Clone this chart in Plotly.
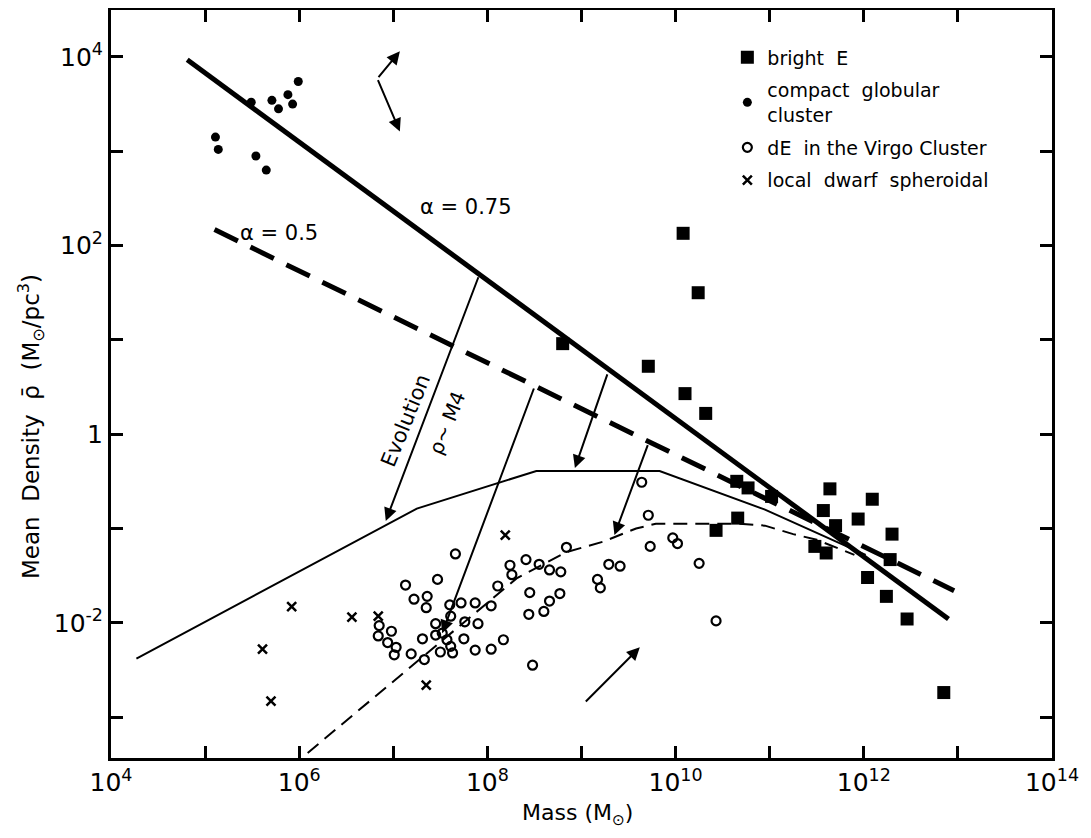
import plotly.graph_objects as go

# ---------------- data (log10 values) ----------------
brightE_logM = [10.08, 10.24, 8.80, 9.71, 10.10, 10.32, 10.65, 10.77, 11.02, 10.66, 10.43, 11.64,
                11.57, 11.70, 11.94, 12.09, 12.30, 11.48, 11.60, 12.28, 12.04, 12.24, 12.46, 12.85]
brightE_logRho = [2.13, 1.50, 0.96, 0.72, 0.43, 0.22, -0.50, -0.57, -0.66, -0.89, -1.02, -0.58,
                  -0.81, -0.97, -0.90, -0.69, -1.06, -1.19, -1.26, -1.33, -1.52, -1.72, -1.96, -2.74]

globular_logM = [5.99, 5.88, 5.93, 5.71, 5.78, 5.49, 5.11, 5.14, 5.54, 5.65]
globular_logRho = [3.74, 3.60, 3.50, 3.54, 3.45, 3.52, 3.15, 3.02, 2.95, 2.80]

dE_logM = [7.66, 7.13, 7.47, 7.22, 7.36, 7.35, 6.85, 6.98, 6.84, 6.94, 7.03, 7.01, 7.19, 7.33, 7.31,
           7.45, 7.45, 7.60, 7.72, 7.87, 8.04, 8.11, 7.61, 7.76, 7.90, 7.75, 7.61, 7.50, 7.63, 7.87,
           8.04, 8.17, 8.24, 8.26, 8.41, 8.55, 8.66, 8.78, 8.84, 8.45, 8.77, 8.66, 8.60, 8.44, 8.48,
           7.52, 7.57, 9.64, 9.71, 9.73, 9.97, 10.02, 10.25, 10.43, 9.29, 9.41, 9.17, 9.20]
dE_logRho = [-1.27, -1.60, -1.54, -1.75, -1.72, -1.84, -2.03, -2.09, -2.14, -2.21, -2.26, -2.34, -2.33,
             -2.39, -2.17, -2.01, -2.13, -1.81, -1.79, -1.79, -1.82, -1.61, -1.93, -1.99, -2.01, -2.17,
             -2.25, -2.31, -2.32, -2.29, -2.28, -2.18, -1.39, -1.49, -1.33, -1.38, -1.44, -1.46, -1.20,
             -1.68, -1.69, -1.77, -1.88, -1.91, -2.45, -2.11, -2.18, -0.51, -0.86, -1.19, -1.10, -1.16,
             -1.37, -1.98, -1.38, -1.40, -1.54, -1.63]

dSph_logM = [5.92, 5.61, 5.70, 6.56, 6.84, 7.35, 8.19]
dSph_logRho = [-1.83, -2.28, -2.83, -1.94, -1.93, -2.66, -1.07]

alpha075_logM = [4.81, 12.90]
alpha075_logRho = [3.97, -1.96]
alpha05_logM = [5.10, 12.96]
alpha05_logRho = [2.17, -1.66]
evolved_logM = [4.27, 7.25, 8.52, 9.83, 10.95, 12.02]
evolved_logRho = [-2.38, -0.79, -0.39, -0.39, -0.80, -1.28]
dEfit_logM = [6.09, 8.31, 8.84, 9.23, 9.58, 9.79, 10.68, 10.95, 11.25, 11.50, 11.90]
dEfit_logRho = [-3.38, -1.53, -1.25, -1.14, -1.00, -0.95, -0.95, -0.97, -1.06, -1.12, -1.28]

# arrows: (tail logM, tail logRho, tip logM, tip logRho)
arrows = [
    (7.91, 1.68, 6.92, -0.92),
    (9.28, 0.65, 8.93, -0.36),
    (9.71, -0.10, 9.35, -1.07),
    (8.50, 0.50, 7.52, -2.11),
    (9.03, -2.85, 9.62, -2.26),
    (6.83, 3.77, 7.07, 4.06),
    (6.83, 3.77, 7.07, 3.21),
]

x_major_exps = [4, 6, 8, 10, 12, 14]
x_minor_exps = [5, 7, 9, 11, 13]
y_major_exps = [4, 2, 0, -2]
y_major_text = ["10<sup>4</sup>", "10<sup>2</sup>", "1", "10<sup>-2</sup>"]
y_minor_exps = [3, 1, -1, -3]

FONT = "DejaVu Sans"


def pw(vals):
    return [10 ** v for v in vals]


fig = go.Figure()

# lines
fig.add_trace(go.Scatter(x=pw(alpha075_logM), y=pw(alpha075_logRho), mode="lines",
                         line=dict(color="black", width=5), showlegend=False, hoverinfo="skip"))
fig.add_trace(go.Scatter(x=pw(alpha05_logM), y=pw(alpha05_logRho), mode="lines",
                         line=dict(color="black", width=5, dash="26px,14px"), showlegend=False,
                         hoverinfo="skip"))
fig.add_trace(go.Scatter(x=pw(evolved_logM), y=pw(evolved_logRho), mode="lines",
                         line=dict(color="black", width=2), showlegend=False, hoverinfo="skip"))
fig.add_trace(go.Scatter(x=pw(dEfit_logM), y=pw(dEfit_logRho), mode="lines",
                         line=dict(color="black", width=2, dash="14px,8px"), showlegend=False,
                         hoverinfo="skip"))

# points
fig.add_trace(go.Scatter(x=pw(brightE_logM), y=pw(brightE_logRho), mode="markers", name="bright  E",
                         marker=dict(symbol="square", size=13, color="black"), legendgroup="a"))
fig.add_trace(go.Scatter(x=pw(globular_logM), y=pw(globular_logRho), mode="markers",
                         name="compact  globular<br>cluster",
                         marker=dict(symbol="circle", size=9, color="black"), legendgroup="b"))
fig.add_trace(go.Scatter(x=pw(dE_logM), y=pw(dE_logRho), mode="markers", name="dE  in the Virgo Cluster",
                         marker=dict(symbol="circle-open", size=9, color="black", line=dict(width=2.2)),
                         legendgroup="c"))
fig.add_trace(go.Scatter(x=pw(dSph_logM), y=pw(dSph_logRho), mode="markers",
                         name="local  dwarf  spheroidal",
                         marker=dict(symbol="x-thin", size=9, color="black", line=dict(width=2.5, color="black")),
                         legendgroup="d"))

annotations = []
for (tx, ty, hx, hy) in arrows:
    annotations.append(dict(x=hx, y=hy, ax=tx, ay=ty, xref="x", yref="y", axref="x", ayref="y",
                            text="", showarrow=True, arrowhead=2, arrowsize=1.3, arrowwidth=2,
                            arrowcolor="black", standoff=0))

annotations += [
    dict(x=7.77, y=2.41, xref="x", yref="y", text="α = 0.75", showarrow=False,
         font=dict(family=FONT, size=21, color="black")),
    dict(x=5.78, y=2.13, xref="x", yref="y", text="α = 0.5", showarrow=False,
         font=dict(family=FONT, size=21, color="black")),
    dict(x=7.13, y=0.14, xref="x", yref="y", text="Evolution", showarrow=False, textangle=-68,
         font=dict(family=FONT, size=21, color="black")),
    dict(x=7.57, y=0.12, xref="x", yref="y", text="ρ~ M4", showarrow=False, textangle=-68,
         font=dict(family=FONT, size=20, color="black")),
    # axis titles
    dict(x=-0.086, y=0.4425, xref="paper", yref="paper",
         text="Mean  Density  ρ̄  (M<sub>⊙</sub>/pc<sup>3</sup>)",
         showarrow=False, textangle=-90, xanchor="center", yanchor="middle",
         font=dict(family=FONT, size=23, color="black")),
    dict(x=0.496, y=-0.0762, xref="paper", yref="paper", text="Mass (M<sub>⊙</sub>)",
         showarrow=False, xanchor="center", yanchor="middle",
         font=dict(family=FONT, size=22, color="black")),
]

# the page body adds an 8px offset, so the figure is 8px smaller with shifted margins
fig.update_layout(
    width=1083, height=830,
    margin=dict(l=103, r=39, t=2, b=80, autoexpand=False),
    paper_bgcolor="white", plot_bgcolor="white",
    font=dict(family=FONT, color="black"),
    showlegend=True,
    legend=dict(x=0.655, y=0.962, xanchor="left", yanchor="top", bgcolor="rgba(0,0,0,0)",
                font=dict(family=FONT, size=19, color="black"), traceorder="grouped",
                tracegroupgap=5, itemsizing="trace"),
    annotations=annotations,
)

common = dict(ticks="inside", ticklen=12, tickwidth=2.5, tickcolor="black",
              showline=True, linewidth=3, linecolor="black", mirror="allticks",
              showgrid=False, zeroline=False,
              tickfont=dict(family=FONT, size=25, color="black"))

fig.update_xaxes(
    type="log", range=[4, 14.0],
    tickvals=[10 ** e for e in x_major_exps],
    ticktext=["10<sup>%d</sup>" % e for e in x_major_exps],
    minor=dict(tickvals=[10 ** e for e in x_minor_exps], ticks="inside", ticklen=12,
               tickwidth=2.5, tickcolor="black", showgrid=False),
    **common,
)
fig.update_yaxes(
    type="log", range=[-3.434, 4.498],
    tickvals=[10 ** e for e in y_major_exps],
    ticktext=y_major_text,
    minor=dict(tickvals=[10 ** e for e in y_minor_exps], ticks="inside", ticklen=12,
               tickwidth=2.5, tickcolor="black", showgrid=False),
    **common,
)

fig.write_html("out.html")
